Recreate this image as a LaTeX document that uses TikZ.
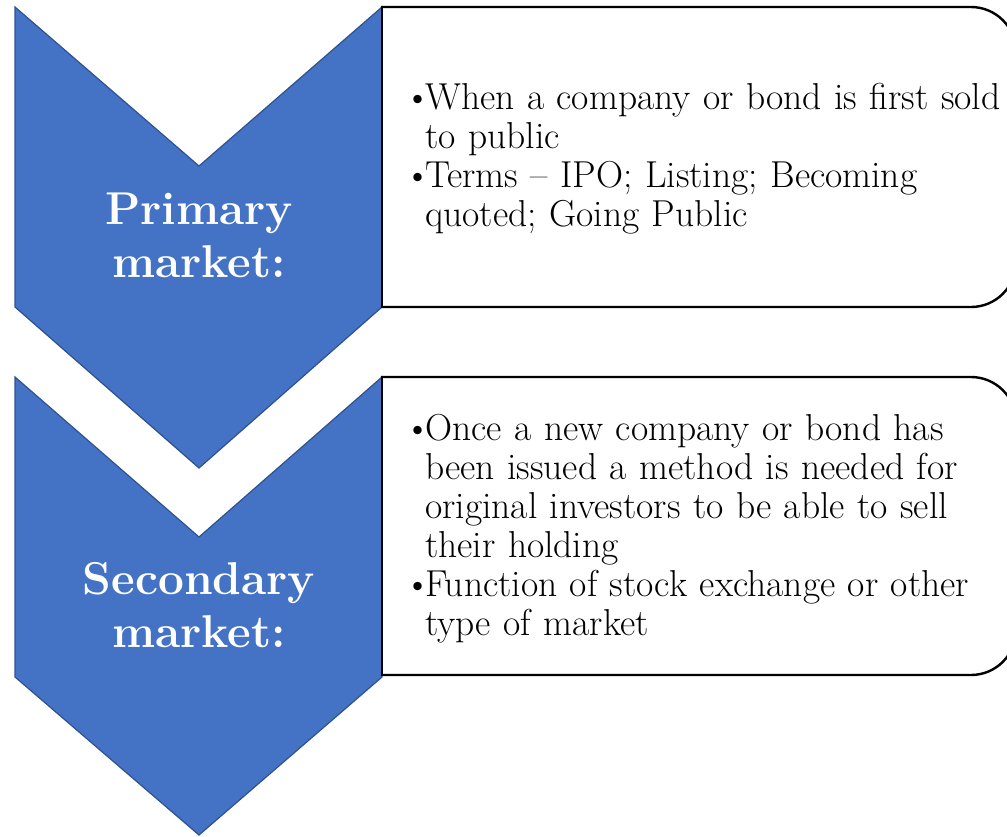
\documentclass[tikz,border=0pt]{standalone}

\definecolor{chevfill}{HTML}{4472C4}
\definecolor{chevline}{HTML}{2F528F}

\tikzset{
  chevron/.style={fill=chevfill, draw=chevline, line width=1.2pt, line join=miter},
  panel/.style={draw=black, line width=2.4pt, line cap=rect},
  title/.style={text=white, align=center, inner sep=0pt,
    font=\fontsize{46}{53}\selectfont\bfseries},
  items/.style={anchor=north west, align=left, text width=620pt, inner sep=0pt,
    font=\fontsize{37.5}{39}\selectfont},
}
\newcommand{\bitem}{\par\hangindent=14pt\hangafter=1\noindent\makebox[14pt][l]{\hspace{-6.5pt}\textbullet}}

\begin{document}
\begin{tikzpicture}[x=1pt,y=-1pt]
  \useasboundingbox (0,0) rectangle (1007,836);
  \clip (0,0) rectangle (1007,836);

  % primary market
  \draw[chevron] (15,7) -- (199,166) -- (382,7) -- (382,307) -- (199,468) -- (15,307) -- cycle;
  \draw[panel, rounded corners=45pt] (382,7) -- (1016,7) -- (1016,307) -- (382,307);
  \draw[panel] (382,7) -- (382,307);
  \node[title] (primary) at (199,235) {Primary\\market:};
  \node[items] (primaryitems) at (411,70)
    {\bitem When a company or bond is first sold\newline to public
     \bitem Terms -- IPO; Listing; Becoming\newline quoted; Going Public\par};

  % secondary market
  \draw[chevron] (15,377) -- (199,537) -- (382,377) -- (382,677) -- (199,835) -- (15,677) -- cycle;
  \draw[panel, rounded corners=45pt] (382,377) -- (1016,377) -- (1016,675) -- (382,675);
  \draw[panel] (382,377) -- (382,675);
  \node[title] (secondary) at (199,605) {Secondary\\market:};
  \node[items] (secondaryitems) at (411,401)
    {\bitem Once a new company or bond has\newline been issued a method is needed for\newline original investors to be able to sell\newline their holding
     \bitem Function of stock exchange or other\newline type of market\par};
\end{tikzpicture}
\end{document}
